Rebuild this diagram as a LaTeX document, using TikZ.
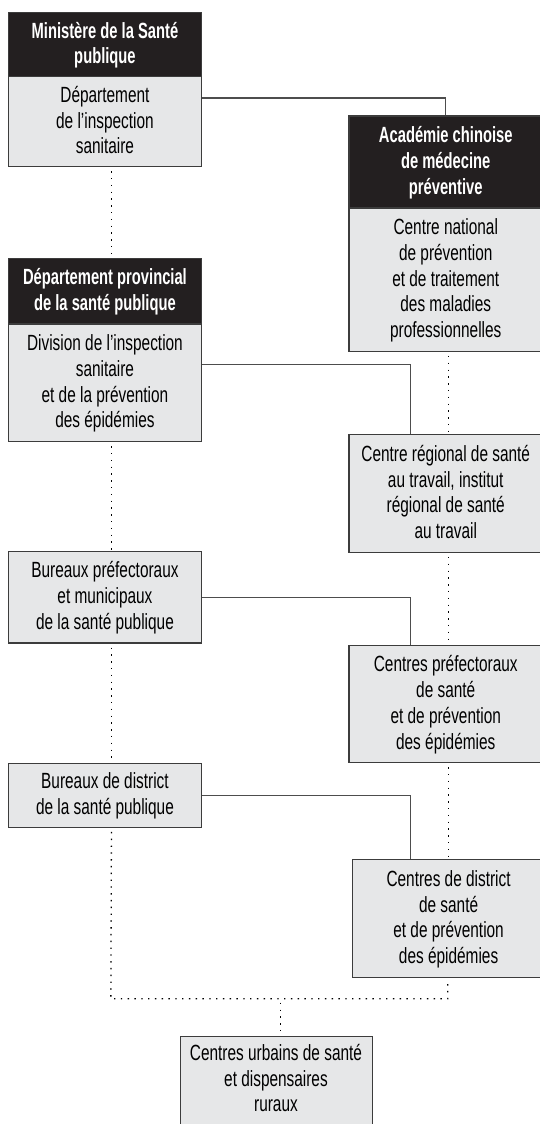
\documentclass[tikz,border=0pt]{standalone}
\usepackage{fontspec}
\newfontfamily\bodyf{Liberation Sans}[FakeStretch=0.70]
\newfontfamily\headf{Liberation Sans}[FakeStretch=0.67]
\definecolor{boxgray}{HTML}{E6E7E8}
\definecolor{headblack}{HTML}{231F20}
\definecolor{bordercol}{HTML}{3C3C3C}
\definecolor{linecol}{HTML}{4D4D4D}
\newcommand\Lt{\rule{0pt}{18pt}}
\newcommand\Lb{\rule[-5pt]{0pt}{5pt}}
\tikzset{
  basebox/.style={anchor=north west, inner sep=0pt, align=center, line width=1.2pt, draw=bordercol},
  headbox/.style={basebox, fill=headblack, text=white, font=\headf\bfseries\fontsize{22}{25.8}\selectfont},
  bodybox/.style={basebox, fill=boxgray, text=black, font=\bodyf\fontsize{22}{25.8}\selectfont},
  solidlink/.style={draw=linecol, line width=1.2pt},
  dotlink/.style={draw=black, line width=1.3pt, dash pattern=on 1.4pt off 5.4pt}
}
\begin{document}
\begin{tikzpicture}[x=1pt,y=1pt]
\useasboundingbox (0,0) rectangle (540,-1124);
\clip (0,0) rectangle (540,-1124);
\fill[white] (0,0) rectangle (540,-1124);

% left column
\node[headbox, minimum width=192.7pt, minimum height=64.3pt] (Ahead) at (8,-11.7) {\Lt Ministère de la Santé\\publique\Lb};
\node[bodybox, minimum width=192.7pt, minimum height=90pt] (Abody) at (8,-76) {\Lt Département\\de l’inspection\\sanitaire\Lb};
\node[headbox, minimum width=192.7pt, minimum height=65.6pt] (Chead) at (8,-257.7) {\Lt Département provincial\\de la santé publique\Lb};
\node[bodybox, minimum width=192.7pt, minimum height=117.7pt] (Cbody) at (8,-323.3) {\Lt Division de l’inspection\\sanitaire\\et de la prévention\\des épidémies\Lb};
\node[bodybox, minimum width=192.7pt, minimum height=91.3pt] (E) at (8,-551) {\Lt Bureaux préfectoraux\\et municipaux\\de la santé publique\Lb};
\node[bodybox, minimum width=192.7pt, minimum height=64pt] (G) at (8,-762.7) {\Lt Bureaux de district\\de la santé publique\Lb};

% right column
\node[headbox, minimum width=193.7pt, minimum height=92pt] (Bhead) at (348.3,-115.3) {\Lt Académie chinoise\\de médecine\\préventive\Lb};
\node[bodybox, minimum width=193.7pt, minimum height=143.4pt] (Bbody) at (348.3,-207.3) {\Lt Centre national\\de prévention\\et de traitement\\des maladies\\professionnelles\Lb};
\node[bodybox, minimum width=193.7pt, minimum height=117.7pt] (D) at (348.3,-434) {\Lt Centre régional de santé\\au travail, institut\\régional de santé\\au travail\Lb};
\node[bodybox, minimum width=193.7pt, minimum height=117pt] (F) at (348.3,-645) {\Lt Centres préfectoraux\\de santé\\et de prévention\\des épidémies\Lb};
\node[bodybox, minimum width=192.8pt, minimum height=117.7pt] (H) at (351.6,-859) {\Lt Centres de district\\de santé\\et de prévention\\des épidémies\Lb};

% bottom (cut by the lower edge of the picture)
\node[bodybox, minimum width=192.4pt, minimum height=100pt] (I) at (179.8,-1035.7) {};
\node[anchor=north, inner sep=0pt, align=center, font=\bodyf\fontsize{22}{25.8}\selectfont] (Itext) at (276,-1042) {\Lt Centres urbains de santé\\et dispensaires\\ruraux};

% solid connectors
\draw[solidlink] ([yshift=-22pt]Abody.north east) -| (Bhead.north);
\draw[solidlink] ([yshift=-41pt]Cbody.north east) -| ([xshift=-35pt]D.north);
\draw[solidlink] (E.east) -| ([xshift=-35pt]F.north);
\draw[solidlink] (G.east) -| ([xshift=-38pt]H.north);

% dotted connectors, left
\draw[dotlink] ([xshift=6.5pt,yshift=-4pt]Abody.south) -- ([xshift=6.5pt]Chead.north);
\draw[dotlink] ([xshift=6.5pt,yshift=-4pt]Cbody.south) -- ([xshift=6.5pt]E.north);
\draw[dotlink] ([xshift=6.5pt,yshift=-4pt]E.south) -- ([xshift=6.5pt]G.north);
\coordinate (jl) at (110.85,-998.7);
\coordinate (jr) at (447.7,-998.7);
\coordinate (jm) at (280.6,-998.7);
\draw[dotlink] ([xshift=6.5pt,yshift=-4pt]G.south) -- (jl) -- (jr) -- ([yshift=-4pt]jr |- H.south);
\draw[dotlink] ([yshift=-4pt]jm) -- (jm |- I.north);

% dotted connectors, right
\draw[dotlink] ([xshift=2.5pt,yshift=-4pt]Bbody.south) -- ([xshift=2.5pt]D.north);
\draw[dotlink] ([xshift=2.5pt,yshift=-4pt]D.south) -- ([xshift=2.5pt]F.north);
\draw[dotlink] ([xshift=2.5pt,yshift=-4pt]F.south) -- ([xshift=2.5pt]F.south |- H.north);
\end{tikzpicture}
\end{document}
